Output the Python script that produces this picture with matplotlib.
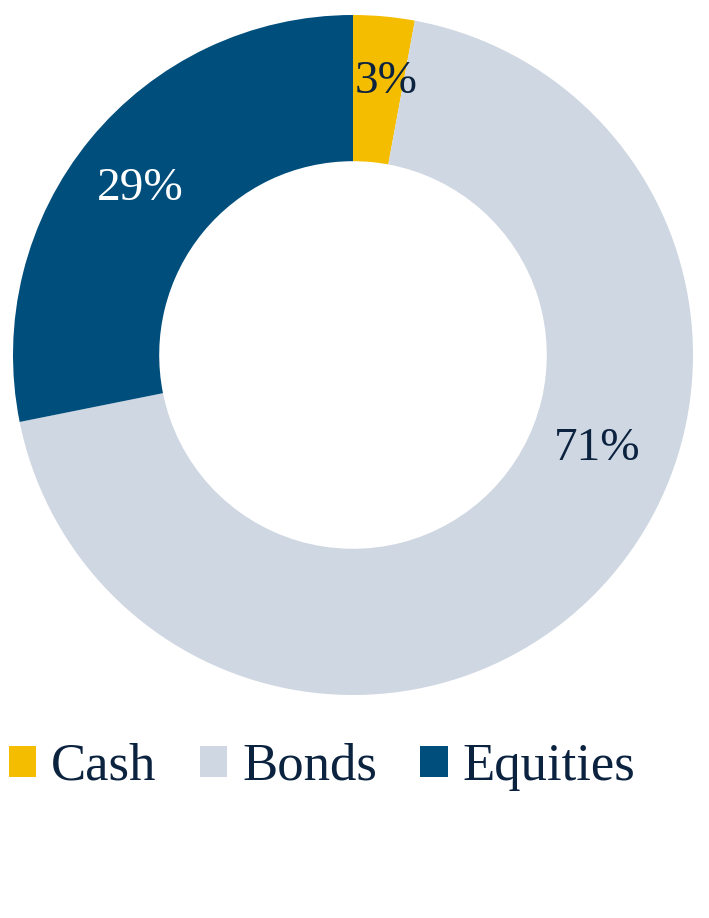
import matplotlib.pyplot as plt
from matplotlib.patches import Patch
import numpy as np

# allocation shares (labels as shown, they sum to 103 due to rounding)
categories = ["Cash", "Bonds", "Equities"]
values = [3, 71, 29]
labels = ["3%", "71%", "29%"]

colors = ["#f5bd00", "#cfd7e2", "#004e7c"]
label_colors = ["#0c2340", "#0c2340", "#ffffff"]
navy = "#0c2340"
# label placement (degrees clockwise from top, radius as fraction of outer)
label_angles = [7, 111, 308]
label_radii = [0.81, 0.77, 0.795]

plt.rcParams['font.family'] = ['Liberation Serif', 'DejaVu Serif']

fig = plt.figure(figsize=(7.09, 9.18), dpi=100)
W, H = 709, 918
# pie area in pixels: center (353,355), radius 340
ax = fig.add_axes([13 / W, (H - 695) / H, 680 / W, 680 / H])

ax.pie(values, startangle=90, counterclock=False, colors=colors,
       radius=1, wedgeprops=dict(width=0.43, linewidth=0))

for lab, c, a, r in zip(labels, label_colors, label_angles, label_radii):
    ang = np.deg2rad(90 - a)
    ax.text(r * np.cos(ang), r * np.sin(ang), lab, ha="center", va="center",
            fontsize=34, color=c)

ax.set_xlim(-1, 1)
ax.set_ylim(-1, 1)
ax.set_aspect("equal")
ax.axis("off")

handles = [Patch(facecolor=c, edgecolor="none") for c in colors]
fig.legend(handles, categories, loc="center left", bbox_to_anchor=(9 / W, 1 - 767 / H),
           ncol=3, frameon=False, fontsize=38, labelcolor=navy,
           handlelength=0.52, handleheight=0.52, handletextpad=0.28,
           columnspacing=0.82, borderpad=0, borderaxespad=0)

plt.savefig("out.png", dpi=100)
